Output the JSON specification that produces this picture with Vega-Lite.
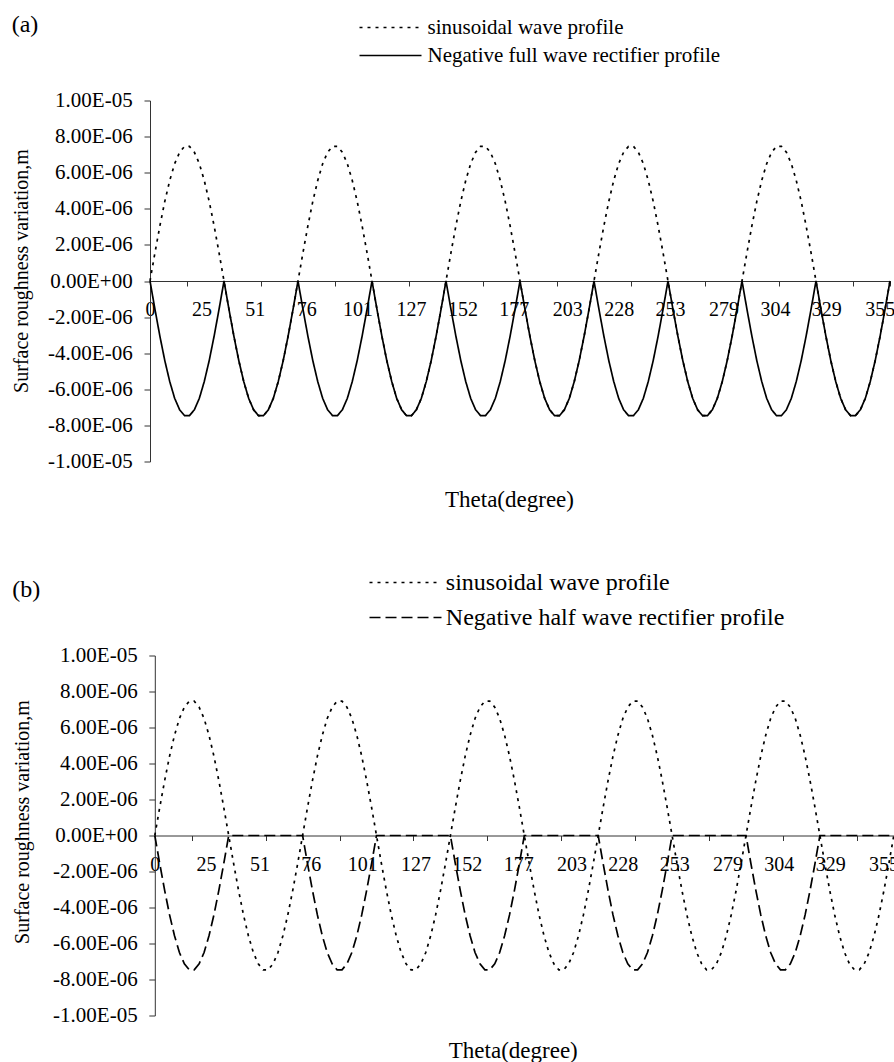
{
"$schema": "https://vega.github.io/schema/vega-lite/v6.json",
"padding": {"left": 11, "top": 12.5, "right": 0, "bottom": 0},
"config": {
  "font": "Liberation Serif",
  "view": {"stroke": null},
  "axis": {"grid": false, "domain": true, "domainColor": "#333", "labelOverlap": false, "labelColor": "black", "titleColor": "black", "tickColor": "#333", "labelFont": "Liberation Serif", "titleFont": "Liberation Serif", "titleFontWeight": "normal"},
  "title": {"font": "Liberation Serif", "fontWeight": "normal", "color": "black"},
  "legend": {"labelFont": "Liberation Serif", "labelColor": "black"}
},
"resolve": {"scale": {"strokeDash": "independent"}, "legend": {"strokeDash": "independent"}},
"datasets": {"wave": [
{"theta":0,"sine":0,"full":0,"half":0},
{"theta":2.4,"sine":1.56e-6,"full":-1.56e-6,"half":-1.56e-6},
{"theta":4.8,"sine":3.05e-6,"full":-3.05e-6,"half":-3.05e-6},
{"theta":7.2,"sine":4.41e-6,"full":-4.41e-6,"half":-4.41e-6},
{"theta":9.6,"sine":5.57e-6,"full":-5.57e-6,"half":-5.57e-6},
{"theta":12,"sine":6.5e-6,"full":-6.5e-6,"half":-6.5e-6},
{"theta":14.4,"sine":7.13e-6,"full":-7.13e-6,"half":-7.13e-6},
{"theta":16.8,"sine":7.46e-6,"full":-7.46e-6,"half":-7.46e-6},
{"theta":19.2,"sine":7.46e-6,"full":-7.46e-6,"half":-7.46e-6},
{"theta":21.6,"sine":7.13e-6,"full":-7.13e-6,"half":-7.13e-6},
{"theta":24,"sine":6.5e-6,"full":-6.5e-6,"half":-6.5e-6},
{"theta":26.4,"sine":5.57e-6,"full":-5.57e-6,"half":-5.57e-6},
{"theta":28.8,"sine":4.41e-6,"full":-4.41e-6,"half":-4.41e-6},
{"theta":31.2,"sine":3.05e-6,"full":-3.05e-6,"half":-3.05e-6},
{"theta":33.6,"sine":1.56e-6,"full":-1.56e-6,"half":-1.56e-6},
{"theta":36,"sine":0,"full":0,"half":0},
{"theta":38.4,"sine":-1.56e-6,"full":-1.56e-6,"half":0},
{"theta":40.8,"sine":-3.05e-6,"full":-3.05e-6,"half":0},
{"theta":43.2,"sine":-4.41e-6,"full":-4.41e-6,"half":0},
{"theta":45.6,"sine":-5.57e-6,"full":-5.57e-6,"half":0},
{"theta":48,"sine":-6.5e-6,"full":-6.5e-6,"half":0},
{"theta":50.4,"sine":-7.13e-6,"full":-7.13e-6,"half":0},
{"theta":52.8,"sine":-7.46e-6,"full":-7.46e-6,"half":0},
{"theta":55.2,"sine":-7.46e-6,"full":-7.46e-6,"half":0},
{"theta":57.6,"sine":-7.13e-6,"full":-7.13e-6,"half":0},
{"theta":60,"sine":-6.5e-6,"full":-6.5e-6,"half":0},
{"theta":62.4,"sine":-5.57e-6,"full":-5.57e-6,"half":0},
{"theta":64.8,"sine":-4.41e-6,"full":-4.41e-6,"half":0},
{"theta":67.2,"sine":-3.05e-6,"full":-3.05e-6,"half":0},
{"theta":69.6,"sine":-1.56e-6,"full":-1.56e-6,"half":0},
{"theta":72,"sine":0,"full":0,"half":0},
{"theta":74.4,"sine":1.56e-6,"full":-1.56e-6,"half":-1.56e-6},
{"theta":76.8,"sine":3.05e-6,"full":-3.05e-6,"half":-3.05e-6},
{"theta":79.2,"sine":4.41e-6,"full":-4.41e-6,"half":-4.41e-6},
{"theta":81.6,"sine":5.57e-6,"full":-5.57e-6,"half":-5.57e-6},
{"theta":84,"sine":6.5e-6,"full":-6.5e-6,"half":-6.5e-6},
{"theta":86.4,"sine":7.13e-6,"full":-7.13e-6,"half":-7.13e-6},
{"theta":88.8,"sine":7.46e-6,"full":-7.46e-6,"half":-7.46e-6},
{"theta":91.2,"sine":7.46e-6,"full":-7.46e-6,"half":-7.46e-6},
{"theta":93.6,"sine":7.13e-6,"full":-7.13e-6,"half":-7.13e-6},
{"theta":96,"sine":6.5e-6,"full":-6.5e-6,"half":-6.5e-6},
{"theta":98.4,"sine":5.57e-6,"full":-5.57e-6,"half":-5.57e-6},
{"theta":100.8,"sine":4.41e-6,"full":-4.41e-6,"half":-4.41e-6},
{"theta":103.2,"sine":3.05e-6,"full":-3.05e-6,"half":-3.05e-6},
{"theta":105.6,"sine":1.56e-6,"full":-1.56e-6,"half":-1.56e-6},
{"theta":108,"sine":0,"full":0,"half":0},
{"theta":110.4,"sine":-1.56e-6,"full":-1.56e-6,"half":0},
{"theta":112.8,"sine":-3.05e-6,"full":-3.05e-6,"half":0},
{"theta":115.2,"sine":-4.41e-6,"full":-4.41e-6,"half":0},
{"theta":117.6,"sine":-5.57e-6,"full":-5.57e-6,"half":0},
{"theta":120,"sine":-6.5e-6,"full":-6.5e-6,"half":0},
{"theta":122.4,"sine":-7.13e-6,"full":-7.13e-6,"half":0},
{"theta":124.8,"sine":-7.46e-6,"full":-7.46e-6,"half":0},
{"theta":127.2,"sine":-7.46e-6,"full":-7.46e-6,"half":0},
{"theta":129.6,"sine":-7.13e-6,"full":-7.13e-6,"half":0},
{"theta":132,"sine":-6.5e-6,"full":-6.5e-6,"half":0},
{"theta":134.4,"sine":-5.57e-6,"full":-5.57e-6,"half":0},
{"theta":136.8,"sine":-4.41e-6,"full":-4.41e-6,"half":0},
{"theta":139.2,"sine":-3.05e-6,"full":-3.05e-6,"half":0},
{"theta":141.6,"sine":-1.56e-6,"full":-1.56e-6,"half":0},
{"theta":144,"sine":0,"full":0,"half":0},
{"theta":146.4,"sine":1.56e-6,"full":-1.56e-6,"half":-1.56e-6},
{"theta":148.8,"sine":3.05e-6,"full":-3.05e-6,"half":-3.05e-6},
{"theta":151.2,"sine":4.41e-6,"full":-4.41e-6,"half":-4.41e-6},
{"theta":153.6,"sine":5.57e-6,"full":-5.57e-6,"half":-5.57e-6},
{"theta":156,"sine":6.5e-6,"full":-6.5e-6,"half":-6.5e-6},
{"theta":158.4,"sine":7.13e-6,"full":-7.13e-6,"half":-7.13e-6},
{"theta":160.8,"sine":7.46e-6,"full":-7.46e-6,"half":-7.46e-6},
{"theta":163.2,"sine":7.46e-6,"full":-7.46e-6,"half":-7.46e-6},
{"theta":165.6,"sine":7.13e-6,"full":-7.13e-6,"half":-7.13e-6},
{"theta":168,"sine":6.5e-6,"full":-6.5e-6,"half":-6.5e-6},
{"theta":170.4,"sine":5.57e-6,"full":-5.57e-6,"half":-5.57e-6},
{"theta":172.8,"sine":4.41e-6,"full":-4.41e-6,"half":-4.41e-6},
{"theta":175.2,"sine":3.05e-6,"full":-3.05e-6,"half":-3.05e-6},
{"theta":177.6,"sine":1.56e-6,"full":-1.56e-6,"half":-1.56e-6},
{"theta":180,"sine":0,"full":0,"half":0},
{"theta":182.4,"sine":-1.56e-6,"full":-1.56e-6,"half":0},
{"theta":184.8,"sine":-3.05e-6,"full":-3.05e-6,"half":0},
{"theta":187.2,"sine":-4.41e-6,"full":-4.41e-6,"half":0},
{"theta":189.6,"sine":-5.57e-6,"full":-5.57e-6,"half":0},
{"theta":192,"sine":-6.5e-6,"full":-6.5e-6,"half":0},
{"theta":194.4,"sine":-7.13e-6,"full":-7.13e-6,"half":0},
{"theta":196.8,"sine":-7.46e-6,"full":-7.46e-6,"half":0},
{"theta":199.2,"sine":-7.46e-6,"full":-7.46e-6,"half":0},
{"theta":201.6,"sine":-7.13e-6,"full":-7.13e-6,"half":0},
{"theta":204,"sine":-6.5e-6,"full":-6.5e-6,"half":0},
{"theta":206.4,"sine":-5.57e-6,"full":-5.57e-6,"half":0},
{"theta":208.8,"sine":-4.41e-6,"full":-4.41e-6,"half":0},
{"theta":211.2,"sine":-3.05e-6,"full":-3.05e-6,"half":0},
{"theta":213.6,"sine":-1.56e-6,"full":-1.56e-6,"half":0},
{"theta":216,"sine":0,"full":0,"half":0},
{"theta":218.4,"sine":1.56e-6,"full":-1.56e-6,"half":-1.56e-6},
{"theta":220.8,"sine":3.05e-6,"full":-3.05e-6,"half":-3.05e-6},
{"theta":223.2,"sine":4.41e-6,"full":-4.41e-6,"half":-4.41e-6},
{"theta":225.6,"sine":5.57e-6,"full":-5.57e-6,"half":-5.57e-6},
{"theta":228,"sine":6.5e-6,"full":-6.5e-6,"half":-6.5e-6},
{"theta":230.4,"sine":7.13e-6,"full":-7.13e-6,"half":-7.13e-6},
{"theta":232.8,"sine":7.46e-6,"full":-7.46e-6,"half":-7.46e-6},
{"theta":235.2,"sine":7.46e-6,"full":-7.46e-6,"half":-7.46e-6},
{"theta":237.6,"sine":7.13e-6,"full":-7.13e-6,"half":-7.13e-6},
{"theta":240,"sine":6.5e-6,"full":-6.5e-6,"half":-6.5e-6},
{"theta":242.4,"sine":5.57e-6,"full":-5.57e-6,"half":-5.57e-6},
{"theta":244.8,"sine":4.41e-6,"full":-4.41e-6,"half":-4.41e-6},
{"theta":247.2,"sine":3.05e-6,"full":-3.05e-6,"half":-3.05e-6},
{"theta":249.6,"sine":1.56e-6,"full":-1.56e-6,"half":-1.56e-6},
{"theta":252,"sine":0,"full":0,"half":0},
{"theta":254.4,"sine":-1.56e-6,"full":-1.56e-6,"half":0},
{"theta":256.8,"sine":-3.05e-6,"full":-3.05e-6,"half":0},
{"theta":259.2,"sine":-4.41e-6,"full":-4.41e-6,"half":0},
{"theta":261.6,"sine":-5.57e-6,"full":-5.57e-6,"half":0},
{"theta":264,"sine":-6.5e-6,"full":-6.5e-6,"half":0},
{"theta":266.4,"sine":-7.13e-6,"full":-7.13e-6,"half":0},
{"theta":268.8,"sine":-7.46e-6,"full":-7.46e-6,"half":0},
{"theta":271.2,"sine":-7.46e-6,"full":-7.46e-6,"half":0},
{"theta":273.6,"sine":-7.13e-6,"full":-7.13e-6,"half":0},
{"theta":276,"sine":-6.5e-6,"full":-6.5e-6,"half":0},
{"theta":278.4,"sine":-5.57e-6,"full":-5.57e-6,"half":0},
{"theta":280.8,"sine":-4.41e-6,"full":-4.41e-6,"half":0},
{"theta":283.2,"sine":-3.05e-6,"full":-3.05e-6,"half":0},
{"theta":285.6,"sine":-1.56e-6,"full":-1.56e-6,"half":0},
{"theta":288,"sine":0,"full":0,"half":0},
{"theta":290.4,"sine":1.56e-6,"full":-1.56e-6,"half":-1.56e-6},
{"theta":292.8,"sine":3.05e-6,"full":-3.05e-6,"half":-3.05e-6},
{"theta":295.2,"sine":4.41e-6,"full":-4.41e-6,"half":-4.41e-6},
{"theta":297.6,"sine":5.57e-6,"full":-5.57e-6,"half":-5.57e-6},
{"theta":300,"sine":6.5e-6,"full":-6.5e-6,"half":-6.5e-6},
{"theta":302.4,"sine":7.13e-6,"full":-7.13e-6,"half":-7.13e-6},
{"theta":304.8,"sine":7.46e-6,"full":-7.46e-6,"half":-7.46e-6},
{"theta":307.2,"sine":7.46e-6,"full":-7.46e-6,"half":-7.46e-6},
{"theta":309.6,"sine":7.13e-6,"full":-7.13e-6,"half":-7.13e-6},
{"theta":312,"sine":6.5e-6,"full":-6.5e-6,"half":-6.5e-6},
{"theta":314.4,"sine":5.57e-6,"full":-5.57e-6,"half":-5.57e-6},
{"theta":316.8,"sine":4.41e-6,"full":-4.41e-6,"half":-4.41e-6},
{"theta":319.2,"sine":3.05e-6,"full":-3.05e-6,"half":-3.05e-6},
{"theta":321.6,"sine":1.56e-6,"full":-1.56e-6,"half":-1.56e-6},
{"theta":324,"sine":0,"full":0,"half":0},
{"theta":326.4,"sine":-1.56e-6,"full":-1.56e-6,"half":0},
{"theta":328.8,"sine":-3.05e-6,"full":-3.05e-6,"half":0},
{"theta":331.2,"sine":-4.41e-6,"full":-4.41e-6,"half":0},
{"theta":333.6,"sine":-5.57e-6,"full":-5.57e-6,"half":0},
{"theta":336,"sine":-6.5e-6,"full":-6.5e-6,"half":0},
{"theta":338.4,"sine":-7.13e-6,"full":-7.13e-6,"half":0},
{"theta":340.8,"sine":-7.46e-6,"full":-7.46e-6,"half":0},
{"theta":343.2,"sine":-7.46e-6,"full":-7.46e-6,"half":0},
{"theta":345.6,"sine":-7.13e-6,"full":-7.13e-6,"half":0},
{"theta":348,"sine":-6.5e-6,"full":-6.5e-6,"half":0},
{"theta":350.4,"sine":-5.57e-6,"full":-5.57e-6,"half":0},
{"theta":352.8,"sine":-4.41e-6,"full":-4.41e-6,"half":0},
{"theta":355.2,"sine":-3.05e-6,"full":-3.05e-6,"half":0},
{"theta":357.6,"sine":-1.56e-6,"full":-1.56e-6,"half":0},
{"theta":360,"sine":0,"full":0,"half":0}
]},
"columns": 1,
"spacing": 59,
"concat": [
{
  "width": 740, "height": 361,
  "title": {"text": "(a)", "anchor": "start", "frame": "bounds", "fontSize": 24, "dy": 24, "offset": 4},
  "data": {"name": "wave"},
  "transform": [{"fold": ["sine", "full"], "as": ["series", "value"]}],
  "mark": {"type": "line", "color": "black", "strokeWidth": 1.7},
  "encoding": {
    "x": {"field": "theta", "type": "quantitative",
      "scale": {"domain": [0, 360], "nice": false, "zero": false},
      "axis": {"orient": "bottom", "offset": -180.5,
        "values": [0,18,25,51,54,76,90,101,126,127,152,162,177,198,203,228,234,253,270,279,304,306,329,342,355,360],
        "labelExpr": "indexof([0,25,51,76,101,127,152,177,203,228,253,279,304,329,355], datum.value) >= 0 ? format(datum.value, 'd') : ''",
        "tickSize": 5, "tickWidth": 1,
        "tickOpacity": {"condition": {"test": "indexof([18,54,90,126,162,198,234,270,306,342,360], datum.value) >= 0", "value": 1}, "value": 0},
        "labelFontSize": 20, "labelPadding": 13.5, "labelFlush": false, "labelOverlap": false, "labelAlign": "center",
        "title": "Theta(degree)", "titleFontSize": 23, "titleX": 359, "titleY": 218.5, "titleAlign": "center", "titleBaseline": "middle"}},
    "y": {"field": "value", "type": "quantitative",
      "scale": {"domain": [-1e-5, 1e-5], "nice": false},
      "axis": {"orient": "left",
        "values": [-1e-5,-8e-6,-6e-6,-4e-6,-2e-6,0,2e-6,4e-6,6e-6,8e-6,1e-5],
        "labelExpr": "(datum.value < 0 ? '-' : '') + replace(replace(format(abs(datum.value), '.2e'), 'e-', 'E-0'), 'e+', 'E+0')",
        "tickSize": 6, "tickWidth": 1, "labelFontSize": 21, "labelPadding": 11.8, "labelOverlap": false,
        "title": "Surface roughness variation,m", "titleFontSize": 20, "titlePadding": 16, "titleY": 170, "titleAlign": "center"}},
    "strokeDash": {"field": "series", "type": "nominal",
      "scale": {"domain": ["sine", "full"], "range": [[3, 5], [1, 0]]},
      "legend": {"title": null, "orient": "none", "legendX": 208.5, "legendY": -83.5,
        "symbolType": "stroke", "symbolSize": 3844, "symbolStrokeWidth": 1.6, "symbolStrokeColor": "black",
        "labelFontSize": 21, "labelOffset": 5, "labelLimit": 600, "clipHeight": 21, "rowPadding": 6, "padding": 0,
        "labelExpr": "datum.value == 'sine' ? 'sinusoidal wave profile' : 'Negative full wave rectifier profile'"}}
  }
},
{
  "width": 744, "height": 360,
  "title": {"text": "(b)", "anchor": "start", "frame": "bounds", "fontSize": 24, "dy": 35, "offset": 4},
  "data": {"name": "wave"},
  "transform": [{"fold": ["sine", "half"], "as": ["series", "value"]}],
  "mark": {"type": "line", "color": "black", "strokeWidth": 1.7},
  "encoding": {
    "x": {"field": "theta", "type": "quantitative",
      "scale": {"domain": [0, 360], "nice": false, "zero": false, "range": [4.8, 743.8]},
      "axis": {"orient": "bottom", "offset": -180,
        "values": [0,18,25,51,54,76,90,101,126,127,152,162,177,198,203,228,234,253,270,279,304,306,329,342,355,360],
        "labelExpr": "indexof([0,25,51,76,101,127,152,177,203,228,253,279,304,329,355], datum.value) >= 0 ? format(datum.value, 'd') : ''",
        "tickSize": 5, "tickWidth": 1,
        "tickOpacity": {"condition": {"test": "indexof([18,54,90,126,162,198,234,270,306,342,360], datum.value) >= 0", "value": 1}, "value": 0},
        "labelFontSize": 20, "labelPadding": 13.5, "labelFlush": false, "labelOverlap": false, "labelAlign": "center",
        "title": "Theta(degree)", "titleFontSize": 23, "titleX": 362.8, "titleY": 215, "titleAlign": "center", "titleBaseline": "middle"}},
    "y": {"field": "value", "type": "quantitative",
      "scale": {"domain": [-1e-5, 1e-5], "nice": false},
      "axis": {"orient": "left", "offset": -4.8,
        "values": [-1e-5,-8e-6,-6e-6,-4e-6,-2e-6,0,2e-6,4e-6,6e-6,8e-6,1e-5],
        "labelExpr": "(datum.value < 0 ? '-' : '') + replace(replace(format(abs(datum.value), '.2e'), 'e-', 'E-0'), 'e+', 'E+0')",
        "tickSize": 6, "tickWidth": 1, "labelFontSize": 21, "labelPadding": 11.6, "labelOverlap": false,
        "title": "Surface roughness variation,m", "titleFontSize": 20, "titlePadding": 20.5, "titleY": 166, "titleAlign": "center"}},
    "strokeDash": {"field": "series", "type": "nominal",
      "scale": {"domain": ["sine", "half"], "range": [[3, 5], [11, 5]]},
      "legend": {"title": null, "orient": "none", "legendX": 218.5, "legendY": -85,
        "symbolType": "stroke", "symbolSize": 5184, "symbolStrokeWidth": 1.6, "symbolStrokeColor": "black",
        "labelFontSize": 24, "labelOffset": 3.3, "labelLimit": 600, "clipHeight": 24, "rowPadding": 11, "padding": 0,
        "labelExpr": "datum.value == 'sine' ? 'sinusoidal wave profile' : 'Negative half wave rectifier profile'"}}
  }
}
]
}
